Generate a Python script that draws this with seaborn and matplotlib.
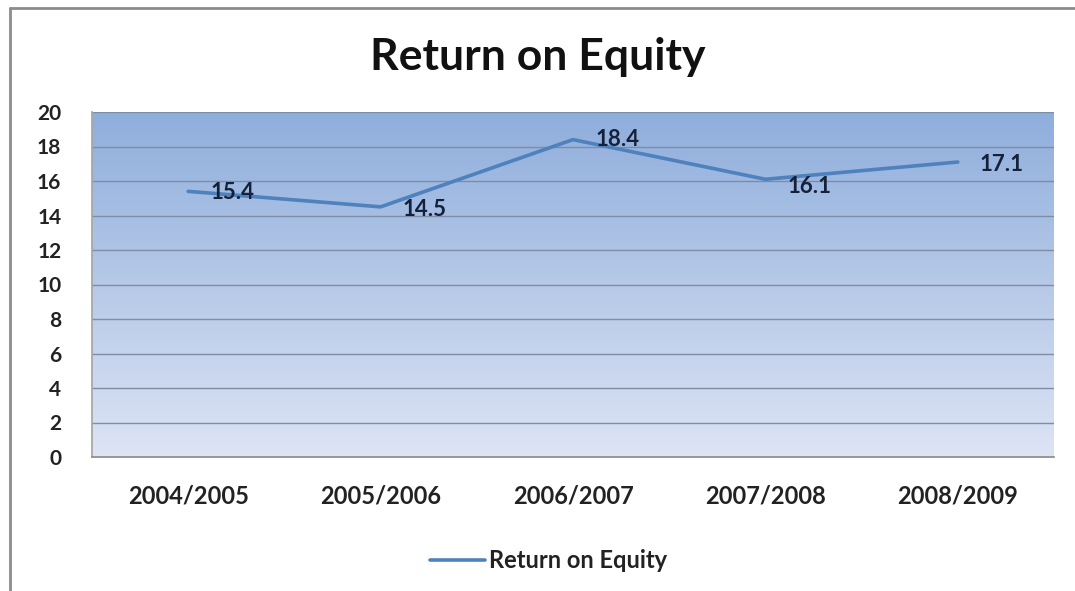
import numpy as np
import pandas as pd
import seaborn as sns
import matplotlib
matplotlib.use("Agg")
import matplotlib.pyplot as plt
from matplotlib.colors import LinearSegmentedColormap
from matplotlib.lines import Line2D

# ---- data ----
years = ["2004/2005", "2005/2006", "2006/2007", "2007/2008", "2008/2009"]
roe = [15.4, 14.5, 18.4, 16.1, 17.1]
series_name = "Return on Equity"
title = "Return on Equity"
yticks = [0, 2, 4, 6, 8, 10, 12, 14, 16, 18, 20]

# label offsets in points (style)
label_offsets = [(16, -1), (16, -2), (16, 0), (16, -5), (16, -2)]

sns.set_theme(style="white")
plt.rcParams["font.family"] = ["Lato", "DejaVu Sans"]

df = pd.DataFrame({"Year": years, series_name: roe})

fig = plt.figure(figsize=(10.75, 5.91), dpi=100)
ax = fig.add_axes([92 / 1075, 1 - 457 / 591, (1054 - 92) / 1075, (457 - 112) / 591])

# gradient background
cmap = LinearSegmentedColormap.from_list("bg", ["#DDE4F4", "#8FAEDC"])
grad = np.linspace(0, 1, 256).reshape(-1, 1)
ax.imshow(grad, cmap=cmap, aspect="auto", extent=[0, 1, 0, 1],
          transform=ax.transAxes, origin="lower", zorder=0)

line_color = "#4F81BD"
sns.lineplot(data=df, x="Year", y=series_name, ax=ax, color=line_color,
             linewidth=2.6, sort=False, label=series_name, zorder=3)

ax.set_xlim(-0.5, len(years) - 0.5)
ax.set_ylim(0, 20)
ax.set_yticks(yticks)
ax.set_yticklabels([str(t) for t in yticks], fontsize=15, fontweight="bold", color="#222222")
ax.set_xticks(range(len(years)))
ax.set_xticklabels(years, fontsize=17, fontweight="bold", color="#222222")
ax.set_xlabel("")
ax.set_ylabel("")

# gridlines
for t in yticks[1:]:
    ax.axhline(t, color="#7E8DA6", linewidth=1.0, zorder=1)

# spines
for s in ["top", "right"]:
    ax.spines[s].set_visible(False)
ax.spines["left"].set_color("#A6A6A6")
ax.spines["bottom"].set_color("#8C8C8C")
ax.spines["left"].set_zorder(2)

# ticks: y ticks outward on left, x ticks at category boundaries
ax.tick_params(axis="y", which="major", length=0, pad=22)
ax.tick_params(axis="x", which="major", length=0, pad=20)
ax.set_xticks(np.arange(-0.5, len(years), 1.0), minor=True)
ax.tick_params(axis="x", which="minor", length=5, color="#8C8C8C", direction="out")
ax.set_yticks(yticks, minor=True)
ax.tick_params(axis="y", which="minor", length=10, color="#A6A6A6", direction="out", width=1)

# data labels
for i, (v, off) in enumerate(zip(roe, label_offsets)):
    ax.annotate(f"{v}", xy=(i, v), xytext=off, textcoords="offset points",
                ha="left", va="center", fontsize=16, fontweight="bold",
                color="#14213A", zorder=4)

# title
fig.text(0.5, 1 - 57 / 591, title, ha="center", va="center",
         fontsize=32, fontweight="bold", color="#111111")

# legend
ax.legend_.remove()
handles = [Line2D([0], [0], color=line_color, linewidth=2.6)]
leg = fig.legend(handles, [series_name], loc="center", bbox_to_anchor=(549 / 1075, 1 - 561 / 591),
                 frameon=False, prop={"size": 17, "weight": "bold"}, handlelength=2.3,
                 handletextpad=0.2)
for t in leg.get_texts():
    t.set_color("#222222")

# outer border (top and left)
fig.add_artist(Line2D([10 / 1075, 1], [1 - 8 / 591, 1 - 8 / 591], transform=fig.transFigure,
                      color="#8C8C8C", linewidth=2))
fig.add_artist(Line2D([10 / 1075, 10 / 1075], [0, 1 - 8 / 591], transform=fig.transFigure,
                      color="#8C8C8C", linewidth=2))

fig.savefig("out.png", dpi=100, facecolor="white")
